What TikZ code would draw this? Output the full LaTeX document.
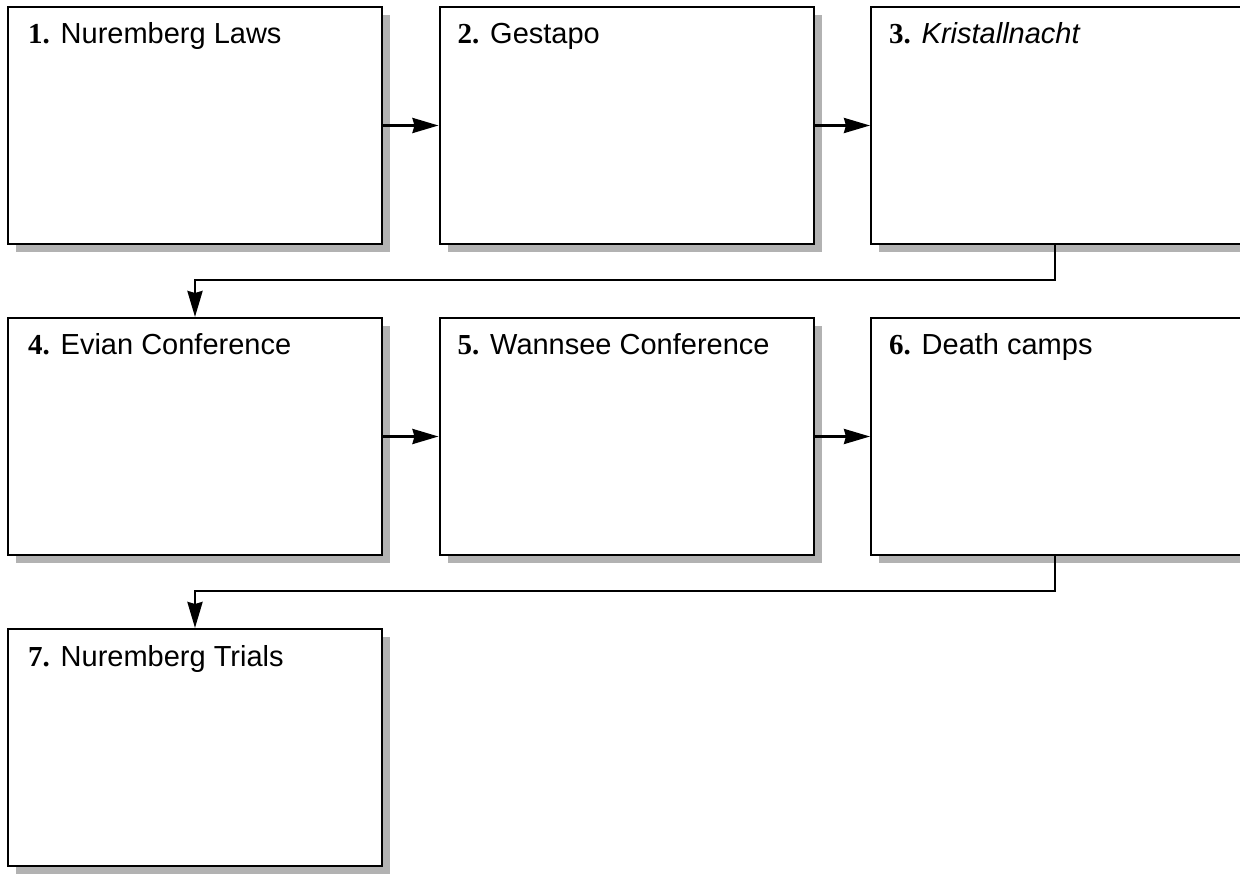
\documentclass[tikz,border=0pt]{standalone}
\usepackage{fontspec}
\setmainfont{Liberation Sans}
\newfontfamily\numfont{Liberation Serif}
\usetikzlibrary{arrows.meta,shadows,calc}
\begin{document}
\begin{tikzpicture}[x=1pt,y=1pt,
  box/.style={draw=black, line width=2pt, fill=white, minimum width=374pt,
    minimum height=237pt, inner sep=0pt, anchor=north west,
    drop shadow={shadow xshift=8pt, shadow yshift=-8pt, fill=black!30, opacity=1}},
  lbl/.style={anchor=base west, inner sep=0pt, font=\fontsize{29}{34}\selectfont},
  conn/.style={line width=2.8pt, -{Stealth[length=26pt,width=15pt,inset=2pt]}}]
\useasboundingbox (0,0) rectangle (1240,-874);
% boxes
\node[box] (b1) at (7,-6) {};
\node[box] (b2) at (438.5,-6) {};
\node[box] (b3) at (870,-6) {};
\node[box] (b4) at (7,-317) {};
\node[box] (b5) at (438.5,-317) {};
\node[box] (b6) at (870,-317) {};
\node[box] (b7) at (7,-628) {};
% labels
\node[lbl] (t1) at ($(b1.north west)+(21,-38)$) {{\numfont\bfseries 1.} Nuremberg Laws};
\node[lbl] (t2) at ($(b2.north west)+(19,-38)$) {{\numfont\bfseries 2.} Gestapo};
\node[lbl] (t3) at ($(b3.north west)+(19,-38)$) {{\numfont\bfseries 3.} \textit{Kristallnacht}};
\node[lbl] (t4) at ($(b4.north west)+(21,-38)$) {{\numfont\bfseries 4.} Evian Conference};
\node[lbl] (t5) at ($(b5.north west)+(19,-38)$) {{\numfont\bfseries 5.} Wannsee Conference};
\node[lbl] (t6) at ($(b6.north west)+(19,-38)$) {{\numfont\bfseries 6.} Death camps};
\node[lbl] (t7) at ($(b7.north west)+(21,-38)$) {{\numfont\bfseries 7.} Nuremberg Trials};
% connectors
\draw[conn] (b1.east) -- (b2.west);
\draw[conn] (b2.east) -- (b3.west);
\draw[conn] ([xshift=-3pt]b3.south) -- ++(0,-35) -| (b4.north);
\draw[conn] (b4.east) -- (b5.west);
\draw[conn] (b5.east) -- (b6.west);
\draw[conn] ([xshift=-3pt]b6.south) -- ++(0,-35) -| (b7.north);
\end{tikzpicture}
\end{document}
